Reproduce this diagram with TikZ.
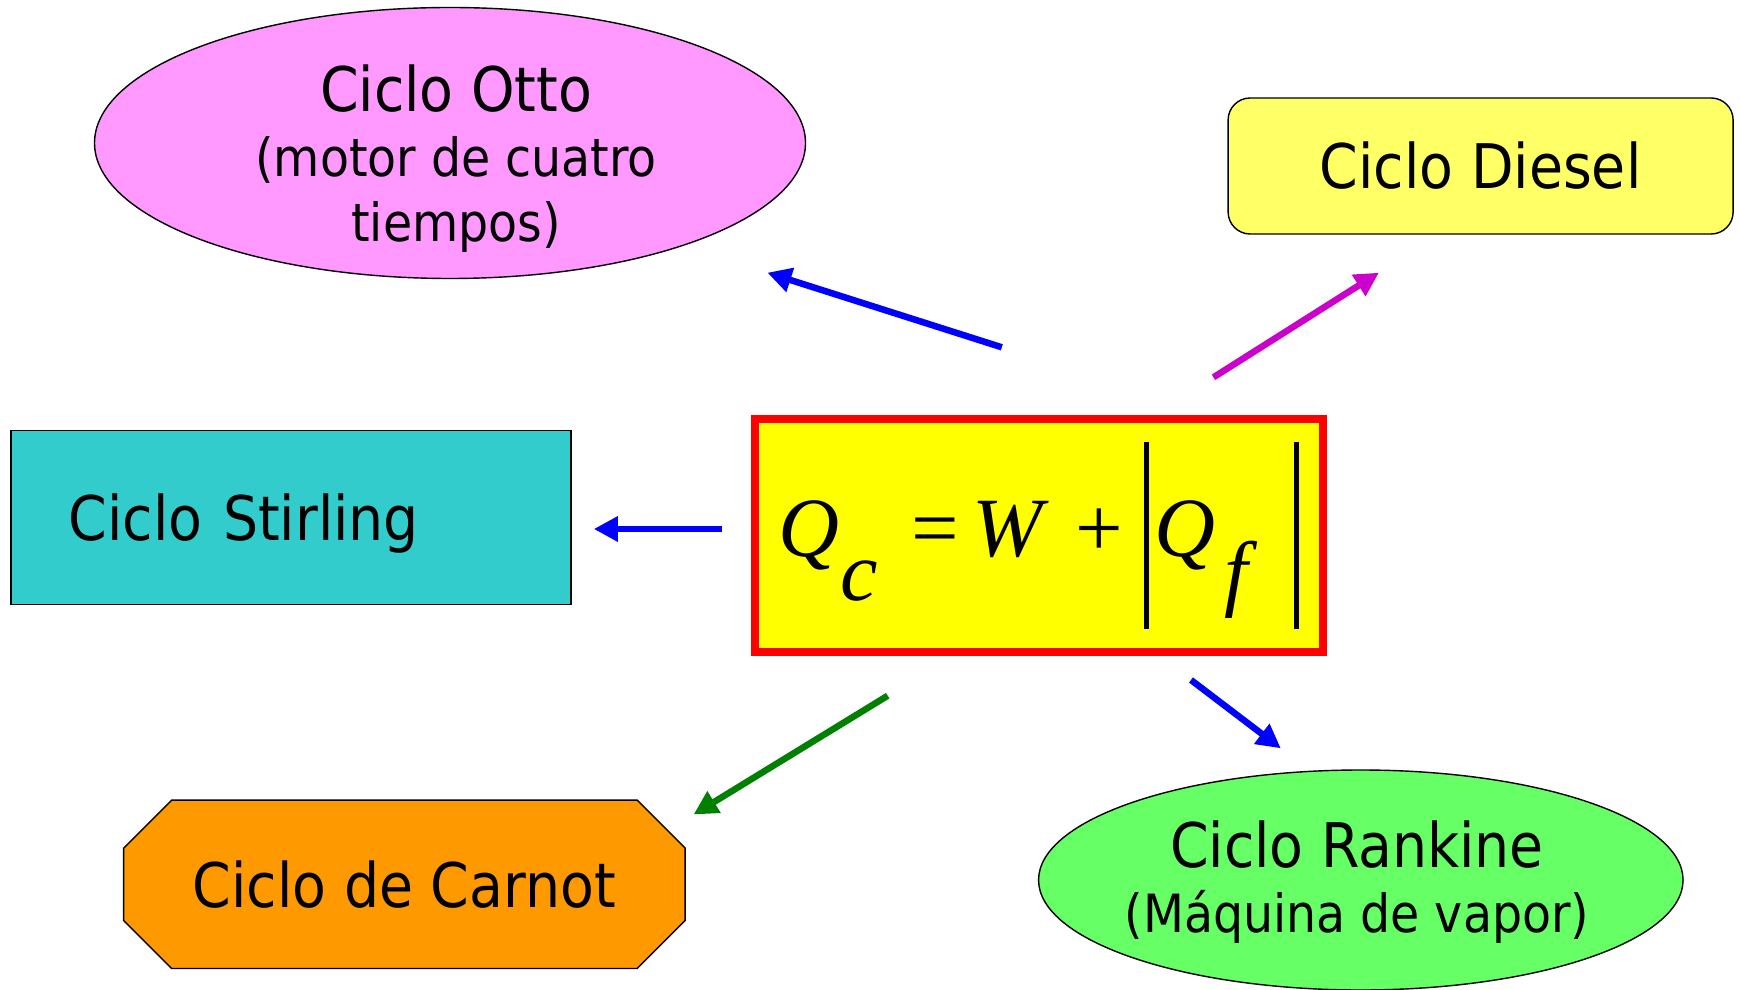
\documentclass[tikz,border=0pt]{standalone}
\usepackage{fontspec}
\setmainfont{DejaVu Sans Condensed}
\newfontfamily\eqfont{Liberation Serif}
\usetikzlibrary{shapes.geometric,arrows.meta,calc,backgrounds}
\definecolor{OttoPink}{HTML}{FF99FF}
\definecolor{DieselYellow}{HTML}{FFFF66}
\definecolor{StirlingTeal}{HTML}{33CCCC}
\definecolor{CarnotOrange}{HTML}{FF9900}
\definecolor{RankineGreen}{HTML}{66FF66}
\definecolor{EqYellow}{HTML}{FFFF00}
\definecolor{EqRed}{HTML}{FF0000}
\definecolor{ArrowBlue}{HTML}{0000FF}
\definecolor{ArrowMagenta}{HTML}{CC00CC}
\definecolor{ArrowGreen}{HTML}{008000}
\newcommand{\subline}{\fontsize{15}{18.5}\selectfont}
\newcommand{\absbar}{\rule[-7.2mm]{0.5mm}{18.7mm}}
\tikzset{
  cycle oval/.style={draw=black,thin,ellipse,inner sep=0pt},
  cycle box/.style={draw=black,thin,inner sep=0pt,
    font=\fontsize{17.5}{18.5}\selectfont},
  cycle text/.style={align=center,inner sep=0pt,
    font=\fontsize{17.5}{18.5}\selectfont},
  formula box/.style={draw=EqRed,line width=0.8mm,fill=EqYellow,inner sep=0pt,
    minimum width=56.75mm,minimum height=23.3mm},
  cycle arrow/.style={-{Triangle[length=2.4mm,width=2.4mm]},line width=0.65mm}
}

\begin{document}
\begin{tikzpicture}[x=0.1mm,y=-0.1mm]
  \useasboundingbox (0,0) rectangle (1740,990);
  % the five cycles
  \node[cycle oval,fill=OttoPink,minimum width=71.1mm,minimum height=27.1mm] (otto) at (450,143) {};
  \node[cycle text] (otto text) at (456,159) {Ciclo Otto\\ \subline (motor de cuatro\\ \subline tiempos)};
  \node[cycle box,fill=DieselYellow,rounded corners=2.2mm,minimum width=50.5mm,
    minimum height=13.6mm] (diesel) at (1480.6,166) {Ciclo Diesel};
  \node[cycle box,fill=StirlingTeal,inner xsep=5.8mm,text width=44.4mm,align=left,
    minimum height=17.36mm,text depth=0pt] (stirling) at (290.9,517.5) {Ciclo Stirling};
  \node[cycle text,minimum width=56mm,minimum height=16.7mm] (carnot) at (404.4,884.3) {Ciclo de Carnot};
  \begin{scope}[on background layer]
    \draw[thin,fill=CarnotOrange] ($(carnot.north west)+(48,0)$) -- ($(carnot.north east)+(-48,0)$)
      -- ($(carnot.north east)+(0,48)$) -- ($(carnot.south east)+(0,-48)$)
      -- ($(carnot.south east)+(-48,0)$) -- ($(carnot.south west)+(48,0)$)
      -- ($(carnot.south west)+(0,-48)$) -- ($(carnot.north west)+(0,48)$) -- cycle;
  \end{scope}
  \node[cycle oval,fill=RankineGreen,minimum width=64.45mm,minimum height=22mm] (rankine) at (1360.8,880) {};
  \node[cycle text] (rankine text) at (1357,882) {Ciclo Rankine\\ \subline (Máquina de vapor)};
  % first law
  \node[formula box] (eq) at (1039,535.5) {\eqfont\fontsize{24}{24}\selectfont
    \itshape Q\hspace{0.13mm}\raisebox{-4.4mm}{c}\hspace{3.28mm}\upshape=\hspace{1.38mm}\itshape
    W\hspace{3.25mm}\upshape+\hspace{2.1mm}\absbar\hspace{0.54mm}\itshape
    Q\hspace{0.9mm}\raisebox{-4.4mm}{f}\hspace{4.7mm}\absbar\hspace{0.9mm}};
  % arrows
  \coordinate (otto tail) at (1001.8,347.3);
  \coordinate (otto tip) at (767.4,272.7);
  \coordinate (diesel tail) at (1213.5,377.3);
  \coordinate (diesel tip) at (1378.9,272.7);
  \coordinate (stirling tail) at (722.2,529);
  \coordinate (stirling tip) at (593.8,529);
  \coordinate (carnot tail) at (887.7,695.7);
  \coordinate (carnot tip) at (693.6,814.5);
  \coordinate (rankine tail) at (1191,680);
  \coordinate (rankine tip) at (1280.8,748.3);
  \draw[cycle arrow,draw=ArrowBlue,fill=ArrowBlue] (otto tail) -- (otto tip);
  \draw[cycle arrow,draw=ArrowMagenta,fill=ArrowMagenta] (diesel tail) -- (diesel tip);
  \draw[cycle arrow,draw=ArrowBlue,fill=ArrowBlue] (stirling tail) -- (stirling tip);
  \draw[cycle arrow,draw=ArrowGreen,fill=ArrowGreen] (carnot tail) -- (carnot tip);
  \draw[cycle arrow,draw=ArrowBlue,fill=ArrowBlue] (rankine tail) -- (rankine tip);
\end{tikzpicture}
\end{document}
